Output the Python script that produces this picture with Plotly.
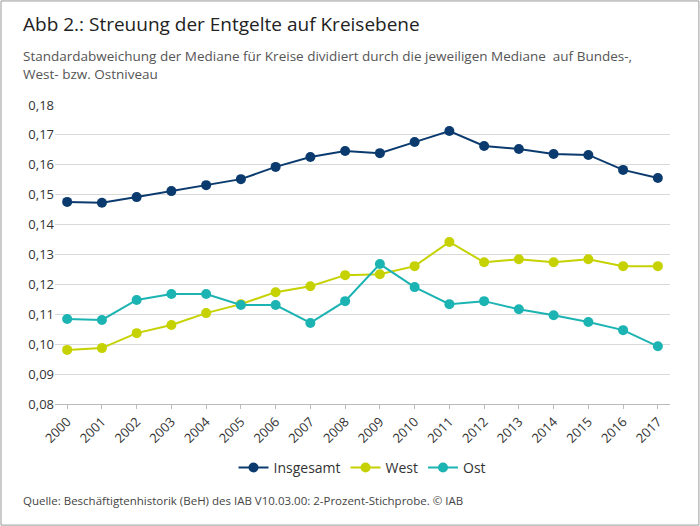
import plotly.graph_objects as go

years = [str(y) for y in range(2000, 2018)]
insgesamt = [0.1476,0.1473,0.1492,0.1512,0.1532,0.1552,0.1593,0.1626,0.1646,0.1639,0.1676,0.1713,0.1663,0.1653,0.1636,0.1633,0.1583,0.1556]
west = [0.0981,0.0987,0.1037,0.1064,0.1104,0.1134,0.1174,0.1194,0.1231,0.1234,0.1261,0.1342,0.1274,0.1284,0.1274,0.1284,0.1261,0.1261]
ost = [0.1084,0.1081,0.1148,0.1168,0.1168,0.1131,0.1131,0.1071,0.1144,0.1268,0.1191,0.1134,0.1144,0.1117,0.1097,0.1074,0.1047,0.0993]
yticks = [0.08,0.09,0.10,0.11,0.12,0.13,0.14,0.15,0.16,0.17,0.18]
ylabels = [f"{v:.2f}".replace(".", ",") for v in yticks]

fig = go.Figure()
for name, vals, col in [("Insgesamt", insgesamt, "#0b3b6e"), ("West", west, "#c5d200"), ("Ost", ost, "#1cb3b3")]:
    fig.add_trace(go.Scatter(x=years, y=vals, name=name, mode="lines+markers",
                             line=dict(color=col, width=2), marker=dict(size=10, color=col)))

font = "Source Sans Pro, Open Sans, sans-serif"
fig.update_layout(
    width=700, height=526, paper_bgcolor="white", plot_bgcolor="white",
    margin=dict(l=55, r=30, t=105, b=122),
    font=dict(family=font, size=13, color="#333"),
    showlegend=True,
    legend=dict(orientation="h", x=0.5, xanchor="center", y=-0.16, yanchor="top", font=dict(size=14)),
    xaxis=dict(type="category", range=[-0.35, 17.35], tickangle=-45, showgrid=False, showline=True, linecolor="#bbb",
               ticks="outside", tickcolor="#bbb", ticklen=4, tickfont=dict(size=13), automargin=False),
    yaxis=dict(range=[0.08, 0.18], tickvals=yticks, ticktext=ylabels, gridcolor="#d9d9d9",
               zeroline=False, tickfont=dict(size=13), automargin=False),
    shapes=[dict(type="rect", xref="paper", yref="paper", x0=-0.0878, x1=1.047, y0=-0.405, y1=1.348,
                 line=dict(color="#999", width=1))],
    annotations=[
        dict(text="Abb 2.: Streuung der Entgelte auf Kreisebene", xref="paper", yref="paper",
             x=-0.056, y=1.32, xanchor="left", yanchor="top", showarrow=False, font=dict(size=19, color="#222")),
        dict(text="Standardabweichung der Mediane für Kreise dividiert durch die jeweiligen Mediane  auf Bundes-,<br>West- bzw. Ostniveau",
             xref="paper", yref="paper", x=-0.056, y=1.2, xanchor="left", yanchor="top", align="left",
             showarrow=False, font=dict(size=13.5, color="#555")),
        dict(text="Quelle: Beschäftigtenhistorik (BeH) des IAB V10.03.00: 2-Prozent-Stichprobe. © IAB",
             xref="paper", yref="paper", x=-0.056, y=-0.29, xanchor="left", yanchor="top",
             showarrow=False, font=dict(size=11.5, color="#444")),
    ],
)
fig.write_html("out.html", config={"displayModeBar": False}, post_script="document.body.style.margin='0';")
